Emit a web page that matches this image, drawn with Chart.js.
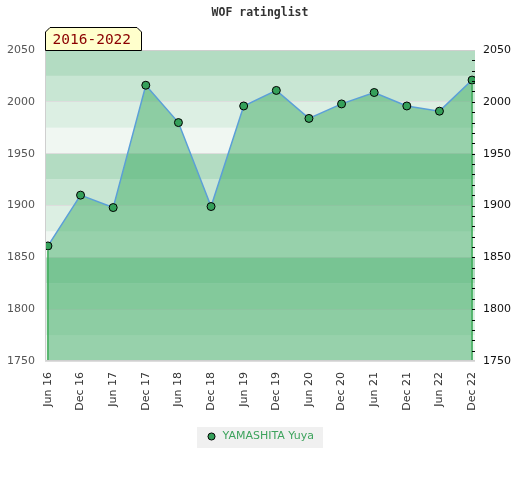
<!DOCTYPE html>
<html>
<head>
<meta charset="utf-8">
<title>WOF ratinglist</title>
<script src="https://cdn.jsdelivr.net/npm/chart.js@4.4.1/dist/chart.umd.min.js"></script>
<style>
  html, body { margin: 0; padding: 0; background: #fff; }
  canvas { display: block; }
</style>
</head>
<body>
<canvas id="rating-chart" width="520" height="480"></canvas>
<script>
const chartTitle = 'WOF ratinglist';
const rangeLabel = '2016-2022';
const playerName = 'YAMASHITA Yuya';
const periods = ['Jun 16', 'Dec 16', 'Jun 17', 'Dec 17', 'Jun 18', 'Dec 18', 'Jun 19',
                 'Dec 19', 'Jun 20', 'Dec 20', 'Jun 21', 'Dec 21', 'Jun 22', 'Dec 22'];
const ratings = [1861, 1910, 1898, 2016, 1980, 1899, 1996, 2011, 1984, 1998, 2009, 1996, 1991, 2021];
const yMin = 1750;
const yMax = 2050;

// light -> dark, one band every 25 points
const bandColors = ['#f0f7f2', '#dcefe3', '#c8e6d3', '#b3dcc2'];
const sansFont = "'DejaVu Sans', 'Liberation Sans', sans-serif";
const monoFont = "'DejaVu Sans Mono', 'Liberation Mono', monospace";
const pointColor = '#35a05a';
const edgeGreen = '#3aaa55';

const bandsPlugin = {
  id: 'bands',
  beforeDraw(chart) {
    const {ctx, chartArea} = chart;
    const y = chart.scales.y;
    ctx.save();
    for (let v = yMin; v < yMax; v += 25) {
      const top = y.getPixelForValue(v + 25);
      const bottom = y.getPixelForValue(v);
      ctx.fillStyle = bandColors[((v - yMin) / 25) % 4];
      ctx.fillRect(chartArea.left, top, chartArea.right - chartArea.left, bottom - top);
    }
    // grey box behind the legend item
    const hb = chart.legend && chart.legend.legendHitBoxes[0];
    if (hb) {
      ctx.fillStyle = '#f0f0f0';
      ctx.fillRect(hb.left - 9, hb.top - 4, hb.width + 18, 21);
    }
    ctx.restore();
  }
};

const edgesPlugin = {
  id: 'edges',
  afterDatasetsDraw(chart) {
    const {ctx, chartArea} = chart;
    const pts = chart.getDatasetMeta(0).data;
    ctx.save();
    ctx.strokeStyle = edgeGreen;
    ctx.lineWidth = 1.5;
    [pts[0], pts[pts.length - 1]].forEach(p => {
      ctx.beginPath();
      ctx.moveTo(p.x, p.y + 4.5);
      ctx.lineTo(p.x, chartArea.bottom);
      ctx.stroke();
    });
    // plot frame: top, left, bottom
    ctx.strokeStyle = '#cfcfcf';
    ctx.lineWidth = 1;
    ctx.beginPath();
    ctx.moveTo(chartArea.right, chartArea.top + 0.5);
    ctx.lineTo(chartArea.left + 0.5, chartArea.top + 0.5);
    ctx.lineTo(chartArea.left + 0.5, chartArea.bottom - 0.5);
    ctx.lineTo(chartArea.right, chartArea.bottom - 0.5);
    ctx.stroke();
    // minor ticks on the right axis
    const y = chart.scales.y2;
    ctx.strokeStyle = '#000';
    for (let v = yMin + 10; v < yMax; v += 10) {
      const py = Math.round(y.getPixelForValue(v)) + 0.5;
      ctx.beginPath();
      ctx.moveTo(chartArea.right - 3, py);
      ctx.lineTo(chartArea.right, py);
      ctx.stroke();
    }
    ctx.restore();
  }
};

const badgePlugin = {
  id: 'badge',
  afterDraw(chart) {
    const {ctx, chartArea} = chart;
    ctx.save();
    ctx.font = '14.5px ' + monoFont;
    const w = ctx.measureText(rangeLabel).width + 17;
    const left = chartArea.left + 0.5;
    const bottom = chartArea.top + 0.5;
    const top = bottom - 23;
    const right = left + Math.round(w);
    const c = 4.5;
    ctx.beginPath();
    ctx.moveTo(left, bottom);
    ctx.lineTo(left, top + c);
    ctx.lineTo(left + c, top);
    ctx.lineTo(right - c, top);
    ctx.lineTo(right, top + c);
    ctx.lineTo(right, bottom);
    ctx.closePath();
    ctx.fillStyle = '#ffffcc';
    ctx.fill();
    ctx.strokeStyle = '#000';
    ctx.lineWidth = 1;
    ctx.stroke();
    ctx.fillStyle = '#8b0000';
    ctx.textBaseline = 'middle';
    ctx.fillText(rangeLabel, left + 7, top + 12.5);
    ctx.restore();
  }
};

new Chart(document.getElementById('rating-chart'), {
  type: 'line',
  data: {
    datasets: [{
      label: playerName,
      data: ratings.map((r, i) => ({x: i, y: r})),
      borderColor: '#5b9fd8',
      borderWidth: 1.5,
      backgroundColor: 'rgba(61, 171, 99, 0.5)',
      fill: 'start',
      tension: 0,
      pointRadius: 4,
      pointHoverRadius: 4,
      pointBackgroundColor: pointColor,
      pointBorderColor: '#000',
      pointBorderWidth: 1
    }]
  },
  options: {
    responsive: false,
    animation: false,
    layout: { padding: { left: 0, right: 0, top: 0, bottom: 28 } },
    scales: {
      x: {
        type: 'linear',
        min: -0.09,
        max: periods.length - 1 + 0.09,
        afterBuildTicks: s => { s.ticks = periods.map((_, i) => ({value: i})); },
        afterFit: s => { s.height = 60; },
        ticks: {
          autoSkip: false,
          minRotation: 90,
          maxRotation: 90,
          padding: 11,
          color: '#333',
          font: { family: sansFont, size: 11 },
          callback: v => periods[v]
        },
        grid: { display: false, drawTicks: false },
        border: { display: false }
      },
      y: {
        position: 'left',
        min: yMin,
        max: yMax,
        afterFit: s => { s.width = 45; },
        ticks: { stepSize: 50, padding: 10, color: '#555', font: { family: sansFont, size: 11 }, callback: v => String(v) },
        grid: { color: '#dddddd', drawTicks: false },
        border: { display: false }
      },
      y2: {
        position: 'right',
        min: yMin,
        max: yMax,
        afterFit: s => { s.width = 45; },
        ticks: { stepSize: 50, padding: 8, color: '#111', font: { family: sansFont, size: 11 }, callback: v => String(v) },
        grid: { display: false, drawTicks: false },
        border: { display: false }
      }
    },
    plugins: {
      title: {
        display: true,
        text: chartTitle,
        color: '#333',
        font: { family: monoFont, size: 11.5, weight: 'bold' },
        padding: { top: 6, bottom: 30.2 }
      },
      legend: {
        position: 'bottom',
        labels: {
          usePointStyle: true,
          boxHeight: 5,
          color: '#3da35d',
          font: { family: sansFont, size: 11 },
          generateLabels: () => [{
            text: playerName,
            fillStyle: pointColor,
            strokeStyle: '#000',
            lineWidth: 1,
            pointStyle: 'circle',
            fontColor: '#3da35d',
            datasetIndex: 0
          }]
        }
      },
      tooltip: { enabled: false }
    }
  },
  plugins: [bandsPlugin, edgesPlugin, badgePlugin]
});
</script>
</body>
</html>
